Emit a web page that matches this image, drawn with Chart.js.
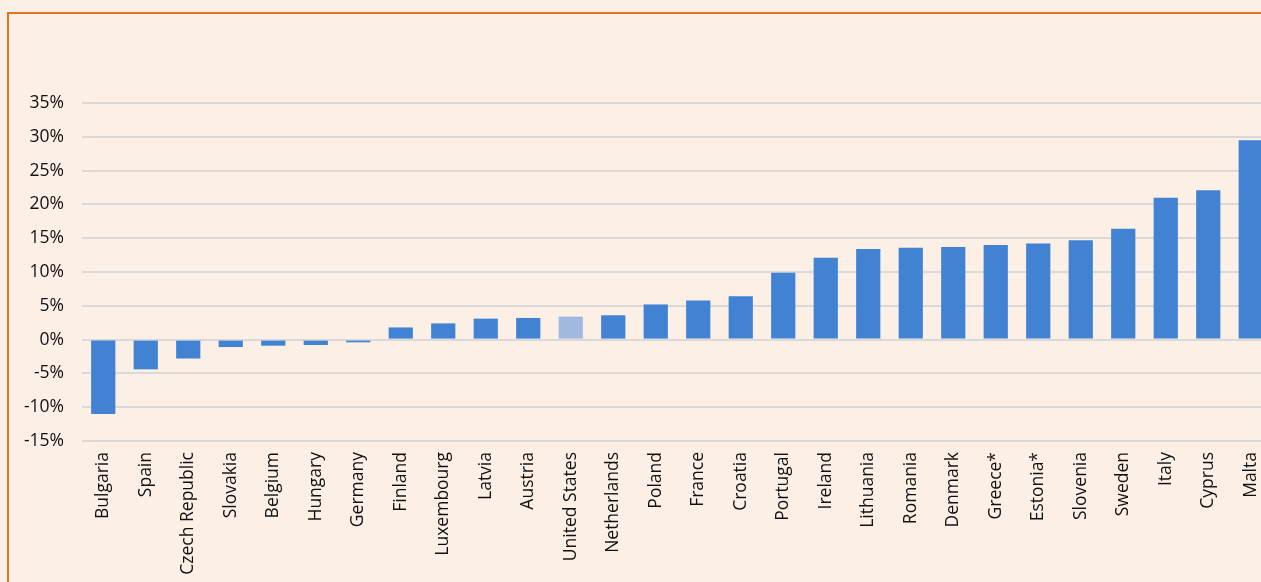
<!DOCTYPE html>
<html>
<head>
<meta charset="utf-8">
<script src="https://cdn.jsdelivr.net/npm/chart.js@4/dist/chart.umd.min.js"></script>
<style>
html,body{margin:0;padding:0;background:#FCEFE5;overflow:hidden;width:1261px;height:582px;}
#frame{position:absolute;left:7px;top:12px;width:1400px;height:700px;border-left:2px solid #E8711C;border-top:2px solid #E8711C;box-sizing:border-box;}
#c{position:absolute;left:0;top:0;}
</style>
</head>
<body>
<div id="frame"></div>
<canvas id="c" width="1272" height="582"></canvas>
<script>
const categories = ["Bulgaria","Spain","Czech Republic","Slovakia","Belgium","Hungary","Germany","Finland","Luxembourg","Latvia","Austria","United States","Netherlands","Poland","France","Croatia","Portugal","Ireland","Lithuania","Romania","Denmark","Greece*","Estonia*","Slovenia","Sweden","Italy","Cyprus","Malta"];
const values = [-11.0,-4.4,-2.8,-1.1,-0.9,-0.8,-0.4,1.8,2.4,3.1,3.2,3.4,3.6,5.2,5.8,6.4,9.9,12.1,13.4,13.6,13.7,14.0,14.2,14.7,16.4,21.0,22.1,29.5];
const highlight = "United States";
const yTicks = [-15,-10,-5,0,5,10,15,20,25,30,35];

const colors = categories.map(c => c === highlight ? '#A1B9E0' : '#4282D3');

new Chart(document.getElementById('c'), {
  type: 'bar',
  data: {
    labels: categories,
    datasets: [{
      data: values,
      backgroundColor: colors,
      borderWidth: 0,
      barPercentage: 0.57,
      categoryPercentage: 1.0
    }]
  },
  options: {
    responsive: false,
    animation: false,
    layout: { padding: { top: 103, right: 0, left: 0, bottom: 0 } },
    plugins: { legend: { display: false }, tooltip: { enabled: false } },
    scales: {
      x: {
        grid: { display: false, drawTicks: false },
        border: { display: false },
        ticks: {
          minRotation: 90, maxRotation: 90, autoSkip: false,
          color: '#111', padding: 11,
          font: { family: 'Open Sans', size: 17.5 }
        },
        afterFit: s => { s.height = 141; s.paddingLeft = 0; s.paddingRight = 0; }
      },
      y: {
        min: -15, max: 35,
        afterBuildTicks: s => { s.ticks = yTicks.map(v => ({ value: v })); },
        grid: { color: '#D9D9D9', lineWidth: 2, drawTicks: false },
        border: { display: false },
        ticks: {
          color: '#111', padding: 18,
          font: { family: 'Open Sans', size: 17.5 },
          callback: v => v + '%'
        },
        afterFit: s => { s.width = 82; }
      }
    }
  }
});
</script>
</body>
</html>
